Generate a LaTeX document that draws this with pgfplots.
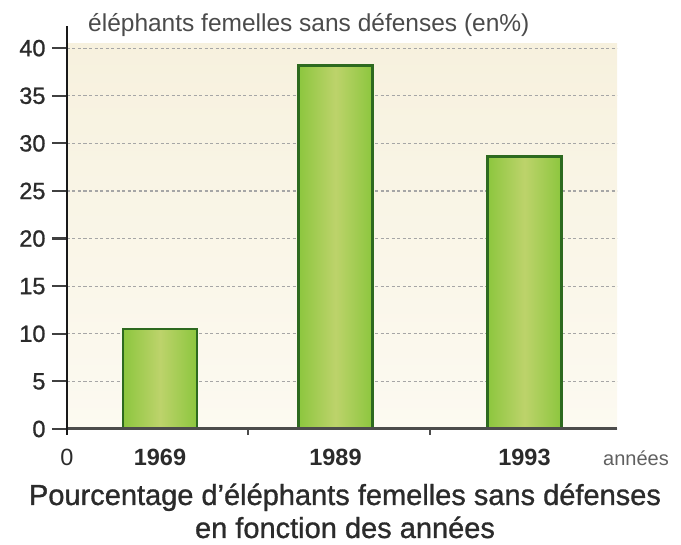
\documentclass[border=0pt]{standalone}
\usepackage{fontspec}
\setmainfont{Liberation Sans}
\newfontfamily\medfont{Liberation Sans}[FakeBold=1]
\usepackage{pgfplots}
\pgfplotsset{compat=1.18}

\definecolor{barfill}{HTML}{8CC63E}
\definecolor{barlight}{HTML}{BDD36B}
\definecolor{barline}{HTML}{2D6A1F}
\definecolor{creamtop}{HTML}{F7F1DE}
\definecolor{creambot}{HTML}{FCFAF1}
\definecolor{txt}{HTML}{2B2B2B}

\pgfplotsset{
  greenbar/.style={draw=barline, line width=2.6pt,
    left color=barfill, right color=barfill, middle color=barlight,
    bar shift=0pt},
}

\begin{document}
\begin{tikzpicture}[x=1pt,y=1pt]
\useasboundingbox (0,0) rectangle (681,545);
\begin{axis}[
  at={(67pt,116pt)}, anchor=south west,
  scale only axis, width=550pt, height=385.6pt,
  xmin=0, xmax=550, ymin=0, ymax=40.5,
  clip=false,
  axis line style={draw=none},
  axis background/.style={shade, top color=creamtop, bottom color=creambot},
  /pgf/number format/assume math mode=true,
  xtick pos=bottom, ytick pos=left,
  ytick={0,5,...,40},
  ymajorgrids,
  grid style={draw=black!35, line width=1.2pt, dash pattern=on 3pt off 2.5pt},
  ytick style={draw=black!75, line width=2.2pt},
  y tick label style={font=\medfont\fontsize{23.5}{23.5}\selectfont, text=txt, xshift=-3pt},
  tick align=outside,
  major tick length=15pt,
  xtick={0,93,268.5,457.5},
  xticklabels={0,\textbf{1969},\textbf{1989},\textbf{1993}},
  x tick label style={font=\fontsize{23.5}{23.5}\selectfont, text=txt, anchor=base, yshift=-22pt},
  xtick style={draw=none},
  extra x ticks={181,363},
  extra x tick labels={},
  extra x tick style={xtick style={draw=black!70, line width=2pt}, major tick length=6pt},
  ybar, bar width=74,
]
% percentage of tuskless females, one bar per year
\addplot[greenbar] coordinates {(93,10.5)};
\addplot[greenbar] coordinates {(268.5,38.2)};
\addplot[greenbar] coordinates {(457.5,28.6)};
% axis lines drawn above the background
\draw[black!70, line width=3pt] (axis cs:0,0) -- (axis cs:550,0);
\draw[black!90, line width=2.4pt] (axis cs:0,-0.6) -- (axis cs:0,42.3);
\node[anchor=base west, text=txt!85, font=\fontsize{24.5}{24.5}\selectfont, inner sep=0pt]
  at (axis cs:21,41.8) {éléphants femelles sans défenses (en\%)};
\node[anchor=base west, text=txt!75, font=\fontsize{20}{20}\selectfont, inner sep=0pt]
  at (axis cs:536,-3.8) {années};
\end{axis}
\node[anchor=base, inner sep=0pt, text=txt, font=\medfont\fontsize{29}{29}\selectfont] at (345,40) {Pourcentage d’éléphants femelles sans défenses};
\node[anchor=base, inner sep=0pt, text=txt, font=\medfont\fontsize{29}{29}\selectfont] at (345,7) {en fonction des années};
\end{tikzpicture}
\end{document}
